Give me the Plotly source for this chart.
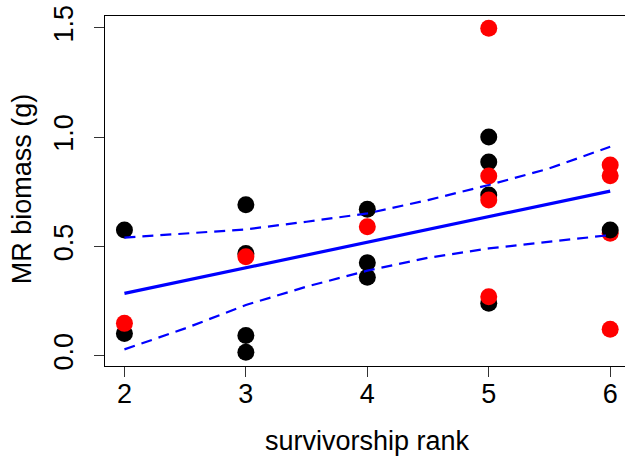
import plotly.graph_objects as go

# Survivorship rank vs. MR biomass, two groups (black / red)
rank = [2, 2, 2,
        3, 3, 3, 3, 3,
        4, 4, 4, 4,
        5, 5, 5, 5, 5, 5, 5, 5,
        6, 6, 6, 6, 6]
biomass = [0.575, 0.102, 0.148,
           0.691, 0.468, 0.453, 0.092, 0.016,
           0.670, 0.425, 0.359, 0.590,
           1.000, 0.886, 0.735, 0.240, 1.498, 0.822, 0.712, 0.270,
           0.872, 0.823, 0.121, 0.560, 0.575]
group = ["k", "k", "r",
         "k", "k", "r", "k", "k",
         "k", "k", "k", "r",
         "k", "k", "k", "k", "r", "r", "r", "r",
         "r", "r", "r", "r", "k"]

# Fitted regression line and its confidence band
fit_x = [2, 6]
fit_y = [0.285, 0.753]
band_x = [2, 2.5, 3, 3.5, 4, 4.5, 5, 5.5, 6]
band_upper = [0.540, 0.560, 0.578, 0.613, 0.651, 0.712, 0.781, 0.857, 0.956]
band_lower = [0.029, 0.125, 0.232, 0.316, 0.389, 0.448, 0.491, 0.522, 0.552]

x_ticks = [2, 3, 4, 5, 6]
y_ticks = [0, 0.5, 1.0, 1.5]
y_tick_text = ["0.0", "0.5", "1.0", "1.5"]

colour_map = {"k": "#000000", "r": "#FF0000"}
FONT = "Liberation Sans, Arial, Helvetica, sans-serif"

fig = go.Figure()

fig.add_trace(go.Scatter(
    x=rank, y=biomass, mode="markers",
    marker=dict(size=17, color=[colour_map[g] for g in group], line=dict(width=0)),
    showlegend=False, hoverinfo="skip",
))

fig.add_trace(go.Scatter(
    x=fit_x, y=fit_y, mode="lines",
    line=dict(color="#0000FF", width=3.2),
    showlegend=False, hoverinfo="skip",
))
for band in (band_upper, band_lower):
    fig.add_trace(go.Scatter(
        x=band_x, y=band, mode="lines",
        line=dict(color="#0000FF", width=2.2, dash="11px,7px"),
        showlegend=False, hoverinfo="skip",
    ))

axis_common = dict(
    showgrid=False, zeroline=False, showline=True, linecolor="#000000",
    linewidth=1, ticks="outside", ticklen=10, tickwidth=1, tickcolor="#333333",
    tickfont=dict(family=FONT, size=27, color="#000000"),
)

fig.update_layout(
    width=625, height=456, autosize=False,
    margin=dict(l=105, r=0, t=16, b=90, pad=0),
    paper_bgcolor="white", plot_bgcolor="white",
    xaxis=dict(range=[1.84, 6.122], tickvals=x_ticks, mirror=True,
               ticklabelstandoff=-6, **axis_common),
    yaxis=dict(range=[-0.047, 1.554], tickvals=y_ticks, ticktext=y_tick_text,
               tickangle=-90, ticklabelstandoff=10, **axis_common),
    annotations=[
        dict(text="survivorship rank", xref="paper", yref="paper",
             x=0.504, y=-0.214, xanchor="center", yanchor="middle",
             showarrow=False, font=dict(family=FONT, size=27, color="#000000")),
        dict(text="MR biomass (g)", xref="paper", yref="paper",
             x=-0.160, y=0.507, xanchor="center", yanchor="middle", textangle=-90,
             showarrow=False, font=dict(family=FONT, size=27, color="#000000")),
    ],
)

fig.write_html("out.html")
